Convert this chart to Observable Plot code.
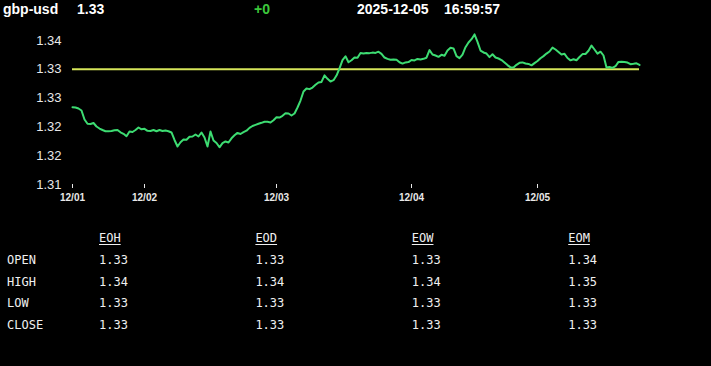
<!DOCTYPE html>
<html>
<head>
<meta charset="utf-8">
<script src="https://cdn.jsdelivr.net/npm/d3@7"></script>
<script src="https://cdn.jsdelivr.net/npm/@observablehq/plot@0.6"></script>
<style>
  html, body { margin: 0; padding: 0; background: #000; width: 711px; height: 366px; overflow: hidden; }
  #root { position: relative; width: 711px; height: 366px; background: #000; }
  .hdr { position: absolute; top: 1px; line-height: 16px; font: bold 14px "Liberation Sans", Arial, sans-serif; color: #fff; white-space: pre; }
  #chart { position: absolute; left: 0; top: 20px; }
  .cell { position: absolute; font: 12px "DejaVu Sans Mono", monospace; line-height: 14px; color: #f0f0f0; white-space: pre; }
  .colhead { text-decoration: underline; text-underline-offset: 2px; }
</style>
</head>
<body>
<div id="root"></div>
<script>
// ---- data ----
const symbol = "gbp-usd";
const lastPrice = "1.33";
const change = "+0";
const dateText = "2025-12-05";
const timeText = "16:59:57";
const prevClose = 1.3300;

const price = [
  1.32342,1.32337,1.32319,1.32285,1.32128,1.32054,1.32050,1.32068,1.32007,1.31972,
  1.31946,1.31925,1.31925,1.31929,1.31943,1.31946,1.31906,1.31880,1.31839,1.31920,
  1.31911,1.31946,1.31990,1.31958,1.31967,1.31932,1.31929,1.31946,1.31924,1.31946,
  1.31929,1.31938,1.31925,1.31903,1.31773,1.31660,1.31734,1.31781,1.31778,1.31830,
  1.31833,1.31868,1.31833,1.31903,1.31816,1.31660,1.31920,1.31764,1.31720,1.31646,
  1.31717,1.31747,1.31729,1.31802,1.31854,1.31896,1.31877,1.31908,1.31934,1.31983,
  1.32016,1.32035,1.32054,1.32071,1.32090,1.32089,1.32076,1.32116,1.32167,1.32163,
  1.32193,1.32236,1.32233,1.32198,1.32233,1.32337,1.32458,1.32615,1.32667,1.32656,
  1.32684,1.32731,1.32771,1.32781,1.32896,1.32835,1.32788,1.32811,1.32892,1.33017,
  1.33158,1.33227,1.33123,1.33158,1.33205,1.33201,1.33283,1.33273,1.33283,1.33281,
  1.33290,1.33285,1.33306,1.33269,1.33205,1.33181,1.33165,1.33172,1.33165,1.33123,
  1.33099,1.33120,1.33125,1.33161,1.33155,1.33181,1.33172,1.33182,1.33201,1.33333,
  1.33257,1.33240,1.33217,1.33252,1.33236,1.33326,1.33373,1.33363,1.33229,1.33194,
  1.33257,1.33384,1.33465,1.33523,1.33606,1.33476,1.33326,1.33293,1.33274,1.33212,
  1.33262,1.33205,1.33188,1.33161,1.33118,1.33073,1.33033,1.33031,1.33078,1.33113,
  1.33120,1.33101,1.33094,1.33069,1.33108,1.33144,1.33193,1.33229,1.33273,1.33309,
  1.33378,1.33344,1.33302,1.33257,1.33269,1.33196,1.33156,1.33175,1.33158,1.33214,
  1.33264,1.33266,1.33323,1.33413,1.33344,1.33273,1.33306,1.33240,1.33031,1.33040,
  1.33024,1.33054,1.33128,1.33132,1.33127,1.33118,1.33090,1.33096,1.33104,1.33075
];

const xTickIdx = [0, 24, 68, 113, 155];
const xTickLabels = ["12/01", "12/02", "12/03", "12/04", "12/05"];
const yTickValues = [1.31, 1.315, 1.32, 1.325, 1.33, 1.335];
const yTickLabels = ["1.31", "1.32", "1.32", "1.33", "1.33", "1.34"];

const rowLabels = ["OPEN", "HIGH", "LOW", "CLOSE"];
const colLabels = ["EOH", "EOD", "EOW", "EOM"];
const eohValues = ["1.33", "1.34", "1.33", "1.33"];
const eodValues = ["1.33", "1.34", "1.33", "1.33"];
const eowValues = ["1.33", "1.34", "1.33", "1.33"];
const eomValues = ["1.34", "1.35", "1.33", "1.33"];

// ---- header ----
const root = document.getElementById("root");
function addText(cls, text, left, top, color) {
  const d = document.createElement("div");
  d.className = cls;
  d.textContent = text;
  d.style.left = left + "px";
  if (top !== null) d.style.top = top + "px";
  if (color) d.style.color = color;
  root.appendChild(d);
  return d;
}
addText("hdr", symbol, 3, null);
addText("hdr", lastPrice, 77, null);
addText("hdr", change, 254, null, "#3cc83c");
addText("hdr", dateText, 357, null);
addText("hdr", timeText, 444, null);

// ---- chart ----
const series = price.map((p, i) => ({i, p}));
const chart = Plot.plot({
  width: 711,
  height: 200,
  marginTop: 10,
  marginBottom: 36,
  marginLeft: 72,
  marginRight: 72,
  style: {background: "transparent", color: "#e8e8e8", fontFamily: "'Liberation Sans', Arial, sans-serif", overflow: "visible"},
  x: {domain: [0, price.length - 1]},
  y: {domain: [1.31, 1.33674]},
  marks: [
    Plot.axisY({ticks: yTickValues, tickFormat: d => yTickLabels[yTickValues.indexOf(d)], tickSize: 0, tickPadding: 11, fontSize: 13, label: null}),
    Plot.axisX({ticks: xTickIdx, tickFormat: d => xTickLabels[xTickIdx.indexOf(d)], tickSize: 4, tickPadding: 5, fontSize: 10, fontWeight: "bold", label: null}),
    Plot.ruleY([prevClose], {stroke: "#d6e65a", strokeWidth: 2}),
    Plot.line(series, {x: "i", y: "p", stroke: "#3ddc72", strokeWidth: 2})
  ]
});
const wrap = document.createElement("div");
wrap.id = "chart";
wrap.appendChild(chart);
root.appendChild(wrap);

// ---- table ----
const colValues = [eohValues, eodValues, eowValues, eomValues];
const col0X = 99, colStep = 156.4, headY = 238, rowStep = 21.7, capMid = 6.8;
colLabels.forEach((c, j) => addText("cell colhead", c, col0X + j * colStep, headY - capMid));
rowLabels.forEach((r, k) => {
  const cy = headY + rowStep * (k + 1);
  addText("cell", r, 7, cy - capMid);
  colValues.forEach((vals, j) => addText("cell", vals[k], col0X + j * colStep, cy - capMid));
});
</script>
</body>
</html>
